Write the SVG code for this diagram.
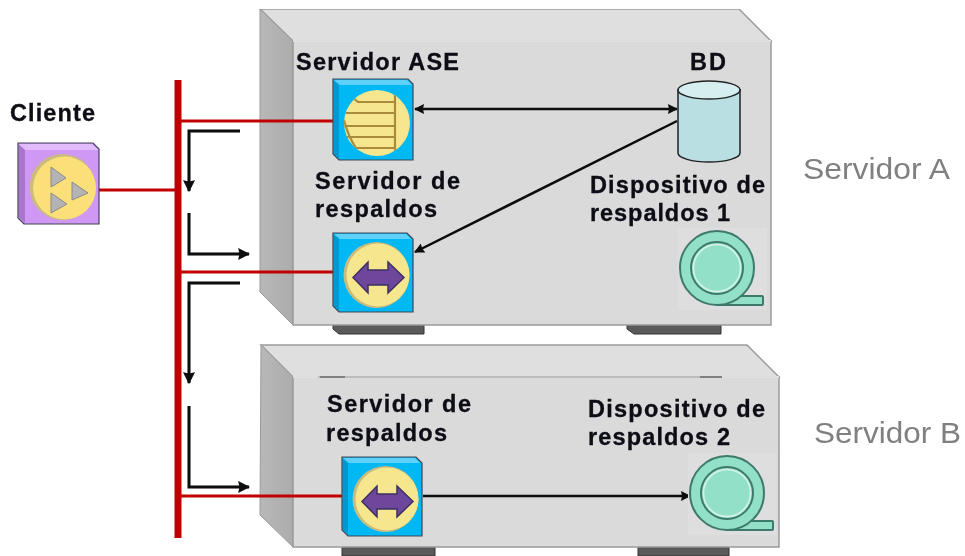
<svg xmlns="http://www.w3.org/2000/svg" width="965" height="556" viewBox="0 0 965 556">
<style>
.lbl{font-family:"Liberation Sans",Arial,sans-serif;font-weight:700;font-size:23.5px;fill:#0a0a14;stroke:#0a0a14;stroke-width:.3}
.srv{font-family:"Liberation Sans",Arial,sans-serif;font-size:29px;fill:#808080}
.top{fill:#dfdfdf;stroke:#9a9a9a;stroke-width:1.5}
.left{fill:url(#gl);stroke:#9a9a9a;stroke-width:1}
.front{fill:#dadada;stroke:#9a9a9a;stroke-width:1.5}
.foot{fill:#5a5a5a;stroke:#333;stroke-width:1}
.red{stroke:#c00000;fill:none;stroke-width:3}
.blk{stroke:#0a0a0a;fill:none;stroke-width:3}
.dbl{stroke:#0a0a0a;fill:none;stroke-width:2.5}
.box{fill:#00b8f4;stroke:#445;stroke-width:1.2}
.bt{fill:#5fd0f8}
.bl{fill:#0098d0}
.disc{fill:#f6e68e}
.rib{stroke:#a98b3a;stroke-width:2.2;fill:none}
.arr{fill:#6e479c;stroke:#3d3060;stroke-width:1.5}
.tape{fill:#93e0c8;stroke:#3d7a6c;stroke-width:2}
.patch{fill:#dedede}
</style>
<defs>
<filter id="soft" x="0" y="0" width="100%" height="100%"><feGaussianBlur stdDeviation="0.45"/></filter>
<linearGradient id="gl" x1="0" x2="1" y1="0" y2="0"><stop offset="0" stop-color="#b8b8b8"/><stop offset="1" stop-color="#acacac"/></linearGradient>
<clipPath id="aseClip"><circle cx="377" cy="123" r="33"/></clipPath>
<marker id="ah" viewBox="0 0 10 10" refX="9" refY="5" markerWidth="4" markerHeight="4" orient="auto-start-reverse" markerUnits="strokeWidth"><path d="M0 0L10 5L0 10L1 5Z" fill="#0a0a0a"/></marker>
<g id="backupIcon">
<path class="box" d="M0 0H74L80 6V79H6L0 73Z"/>
<path class="bt" d="M1 1H73L78 6H7Z"/>
<path class="bl" d="M1 2L6 6V77L1 73Z"/>
<circle cx="43.5" cy="42" r="33" fill="#c9bb80"/>
<circle cx="45" cy="42" r="31.5" class="disc"/>
<path class="arr" d="M20 44.500L35 29V37H55V29L71 44.500L55 60V52H35V60Z"/>
</g>
<g id="tapeIcon">
<rect class="patch" x="-39" y="-40" width="89" height="82"/>
<rect class="tape" x="0" y="28" width="46" height="9" rx="1" stroke-width="1.500"/>
<circle class="tape" r="37"/>
<circle r="26" fill="#93e0c8" stroke="#3d7a6c" stroke-width="2"/>
<circle r="23.500" fill="none" stroke="#d5f2e8" stroke-width="1.500"/>
</g>
</defs>

<g filter="url(#soft)">
<g id="servidor-a">
<path class="foot" d="M333 325H424V334H339L333 329Z"/>
<path class="foot" d="M627 325H721V334H634L627 329Z"/>
<path class="top" d="M260 9H739L771 41H293Z"/>
<path class="left" d="M260 9L293 41V325L260 292Z"/>
<rect class="front" x="293" y="41" width="478" height="284"/>
<path d="M293 41H771" stroke="#f2f2f2" stroke-width="1.500"/>
<text class="srv" x="803" y="179" textLength="147" lengthAdjust="spacingAndGlyphs">Servidor A</text>
</g>

<g id="servidor-b">
<path class="foot" d="M342 547H435V556H342Z"/>
<path class="foot" d="M638 547H729V556H638Z"/>
<path class="top" d="M261 345H747L779 377H293Z"/>
<path class="left" d="M261 345L293 377V547L260 515Z"/>
<rect class="front" x="293" y="377" width="486" height="170"/>
<path d="M293 377H779" stroke="#f2f2f2" stroke-width="1.500"/>
<path d="M318 377H722" stroke="#999" stroke-width="1"/>
<path d="M320 377H345M700 377H722" stroke="#444" stroke-width="1"/>
<text class="srv" x="814" y="443" textLength="147" lengthAdjust="spacingAndGlyphs">Servidor B</text>
</g>

<g id="connectors">
<path d="M178 80V538" stroke="#c00000" stroke-width="7" fill="none"/>
<path class="red" d="M99 190H178"/>
<path class="red" d="M178 121H333"/>
<path class="red" d="M178 272H333"/>
<path class="red" d="M178 496H342"/>
<path class="blk" d="M240 131H189V191" marker-end="url(#ah)"/>
<path class="blk" d="M189 213V254H249" marker-end="url(#ah)"/>
<path class="blk" d="M240 283H189V383" marker-end="url(#ah)"/>
<path class="blk" d="M189 406V487H249" marker-end="url(#ah)"/>
<path class="dbl" d="M415 109H677" marker-start="url(#ah)" marker-end="url(#ah)"/>
<path class="dbl" d="M677 121L415 252" marker-end="url(#ah)"/>
<path class="dbl" d="M423 496H690" marker-end="url(#ah)"/>
</g>

<g id="cliente">
<text class="lbl" x="10" y="121" textLength="85">Cliente</text>
<path fill="#cf98f4" stroke="#445" stroke-width="1.200" d="M18 143H93L99 149V224H24L18 218Z"/>
<path fill="#e2bcff" d="M19 144H92L98 150H25Z"/>
<path fill="#a876cc" d="M19 145L25 150V223L19 217Z"/>
<circle cx="62.500" cy="187" r="33" fill="#c9bb80"/>
<circle cx="64.500" cy="188" r="31.500" fill="#fbe07a"/>
<path fill="#b4b4b4" stroke="#8a8a8a" d="M51 167L66 178L51 187Z"/>
<path fill="#b4b4b4" stroke="#8a8a8a" d="M72 182L88 193L72 200Z"/>
<path fill="#b4b4b4" stroke="#8a8a8a" d="M51 193L67 204L51 213Z"/>
</g>

<g id="servidor-ase">
<text class="lbl" x="296" y="70" textLength="163">Servidor ASE</text>
<path class="box" d="M333 79H408L413 84V160H339L333 154Z"/>
<path class="bt" d="M334 80H407L412 85H340Z"/>
<path class="bl" d="M334 81L339 85V158L334 154Z"/>
<circle class="disc" cx="377" cy="123" r="33"/>
<g clip-path="url(#aseClip)"><path class="rib" d="M395 95V156M352 97L358 102H395M344 113H395M344 126H395M344 137H395M345 148H395M344 120Q348 136 356 148"/></g>
</g>

<g id="bd">
<text class="lbl" x="690" y="70" textLength="36">BD</text>
<path d="M678 90V153A31 9 0 0 0 740 153V90Z" fill="#b9dfe3" stroke="#222" stroke-width="1.500"/>
<ellipse cx="709" cy="90" rx="31" ry="9" fill="#d6eef0" stroke="#222" stroke-width="1.500"/>
</g>

<g id="respaldos-a">
<text class="lbl" x="315" y="189" textLength="145">Servidor de</text>
<text class="lbl" x="315" y="217" textLength="122">respaldos</text>
<use href="#backupIcon" x="333" y="233"/>
</g>

<g id="dispositivo-1">
<text class="lbl" x="590" y="193" textLength="175">Dispositivo de</text>
<text class="lbl" x="590" y="221" textLength="140">respaldos 1</text>
<use href="#tapeIcon" x="717" y="268"/>
</g>

<g id="respaldos-b">
<text class="lbl" x="327" y="412" textLength="144">Servidor de</text>
<text class="lbl" x="326" y="441" textLength="121">respaldos</text>
<use href="#backupIcon" x="342" y="457"/>
</g>

<g id="dispositivo-2">
<text class="lbl" x="588" y="417" textLength="177">Dispositivo de</text>
<text class="lbl" x="588" y="445" textLength="142">respaldos 2</text>
<use href="#tapeIcon" x="727" y="493"/>
</g>
</g>
</svg>
